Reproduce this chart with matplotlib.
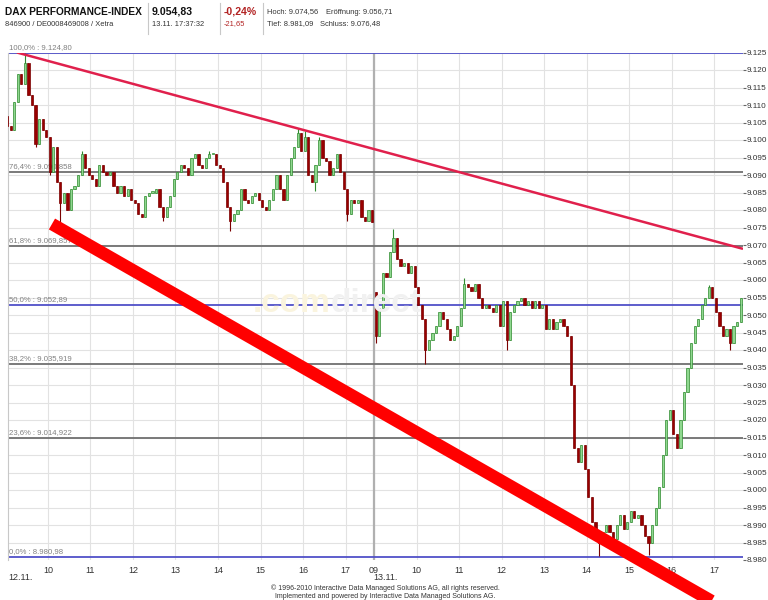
import numpy as np
import matplotlib
matplotlib.use("Agg")
import matplotlib.pyplot as plt
from matplotlib.lines import Line2D

plt.rcParams['font.family'] = ['Liberation Sans', 'DejaVu Sans']

# ---------------- data ----------------
# 5-minute closes, day 1 (12.11.) and day 2 (13.11.), index points
day1_open0 = 9107.0
day1_close = [9104, 9103, 9111, 9119, 9116, 9122, 9113, 9110, 9099, 9106,
              9103, 9101, 9091, 9098, 9088, 9082, 9085, 9080, 9086, 9087,
              9090, 9096, 9092, 9090, 9089, 9087, 9093, 9091, 9090, 9091,
              9087, 9085, 9087, 9084, 9086, 9083, 9082, 9079, 9078, 9084,
              9085, 9085, 9086, 9081, 9078, 9081, 9084, 9089, 9091, 9093,
              9092, 9090, 9095, 9096, 9093, 9092, 9095, 9096, 9096, 9093,
              9092, 9088, 9081, 9077, 9079, 9080, 9086, 9083, 9082, 9084,
              9085, 9083, 9081, 9080, 9083, 9086, 9090, 9086, 9083, 9090,
              9095, 9098, 9102, 9097, 9101, 9090, 9088, 9093, 9100, 9095,
              9094, 9090, 9092, 9096, 9091, 9086, 9079, 9083, 9082, 9083,
              9078, 9077, 9080, 9076.48]
day1_high_spikes = {5: 9124.8, 21: 9097, 57: 9097, 82: 9103.5, 84: 9102.5, 88: 9101}
day1_low_spikes = {8: 9098, 12: 9090, 15: 9076.5, 44: 9077, 63: 9074, 87: 9085.5, 96: 9077}

day2_open0 = 9056.71
day2_close = [9044, 9052, 9062, 9061, 9068, 9072, 9066, 9064, 9065, 9062,
              9064, 9058, 9053, 9049, 9040, 9043, 9045, 9047, 9051, 9049,
              9046, 9043, 9044, 9047, 9052, 9059, 9058, 9057, 9059, 9055,
              9052, 9053, 9052, 9051, 9053, 9047, 9054, 9043, 9051, 9053,
              9054, 9055, 9053, 9054, 9052, 9054, 9052, 9053, 9046, 9049,
              9046, 9048, 9049, 9047, 9044, 9030, 9012, 9008, 9013, 9006,
              8998, 8991, 8987, 8985, 8988, 8990, 8988, 8986, 8990, 8993,
              8989, 8991, 8994, 8992, 8993, 8990, 8987, 8985, 8990, 8995,
              9001, 9010, 9020, 9023, 9016, 9012, 9020, 9028, 9035, 9042,
              9047, 9049, 9053, 9055, 9058, 9055, 9051, 9047, 9044, 9046,
              9042, 9047, 9048, 9054.83]
day2_high_spikes = {5: 9074.56, 25: 9060.5, 94: 9058.5}
day2_low_spikes = {0: 9042, 14: 9036, 37: 9040, 63: 8981.09, 77: 8981.5, 100: 9040}

day2_offset = 8.67          # position of 09:00 on day 2 (in trading hours)

fib_pct = ["100,0%", "76,4%", "61,8%", "50,0%", "38,2%", "23,6%", "0,0%"]
fib_vals = [9124.80, 9090.858, 9069.857, 9052.89, 9035.919, 9014.922, 8980.98]
fib_text = ["9.124,80", "9.090,858", "9.069,857", "9.052,89", "9.035,919", "9.014,922", "8.980,98"]
fib_blue = [True, False, False, True, False, False, True]

upper_t = [0.27, 17.35]
upper_p = [9125.0, 9068.9]
lower_t = [1.094, 16.81]
lower_p = [9076.0, 8966.9]

day1_hours = [10, 11, 12, 13, 14, 15, 16, 17]
day2_hours = [9, 10, 11, 12, 13, 14, 15, 16, 17]

# ---------------- figure ----------------
fig = plt.figure(figsize=(7.68, 6.0), dpi=100)
ax = fig.add_axes([8/768, 40/600, 735/768, 507.5/600])
ax.set_xlim(0.06, 17.35)
ax.set_ylim(8980, 9125)

# grid
for v in np.arange(8980, 9126, 5):
    ax.axhline(v, color='#e2e2e2', lw=0.8, zorder=0)
hour_pos = [h - 9 for h in day1_hours] + [day2_offset + h - 9 for h in day2_hours]
hour_lab = [str(h) for h in day1_hours] + [f"{h:02d}" for h in day2_hours]
for p in hour_pos:
    ax.axvline(p, color='#e2e2e2', lw=0.8, zorder=0)
ax.axvline(day2_offset, color='#b0b0b0', lw=1.6, zorder=0)

# watermark
fig.text(0.43, 0.495, ".com", fontsize=24, fontweight='bold', color='#faf4de',
         ha='right', va='center', zorder=0)
fig.text(0.43, 0.495, "direct", fontsize=24, fontweight='bold', color='#f1f1f1',
         ha='left', va='center', zorder=0)

# fib lines
for pct, val, txt, blue in zip(fib_pct, fib_vals, fib_text, fib_blue):
    ax.axhline(val, color='#5050c8' if blue else '#707070', lw=1.3, zorder=1)
    ax.text(0.08, val + 0.5, f"{pct} : {txt}", fontsize=5.6, color='#808080',
            ha='left', va='bottom', zorder=1)


def draw_candles(t0, open0, closes, hi_sp, lo_sp):
    opens = [open0] + list(closes[:-1])
    bw = 5 / 60
    for i, (o, c) in enumerate(zip(opens, closes)):
        x = t0 + (i * 5 + 2.5) / 60
        hi = max(o, c, hi_sp.get(i, -1e9))
        lo = min(o, c, lo_sp.get(i, 1e9))
        up = c >= o
        edge = '#2f8a2f' if up else '#7a0000'
        face = '#8fd88f' if up else '#990000'
        ax.vlines(x, lo, hi, color=edge, lw=0.8, zorder=3)
        h = max(abs(c - o), 0.35)
        ax.bar(x, h, bottom=min(o, c), width=bw * 0.62, color=face,
               edgecolor=edge, linewidth=0.5, zorder=4)


draw_candles(0.0, day1_open0, day1_close, day1_high_spikes, day1_low_spikes)
draw_candles(day2_offset, day2_open0, day2_close, day2_high_spikes, day2_low_spikes)

# trend lines
ax.plot(upper_t, upper_p, color='#e0204c', lw=1.8, zorder=5, solid_capstyle='butt')
ax.plot(lower_t, lower_p, color='#ff0000', lw=9, zorder=6, clip_on=False,
        solid_capstyle='butt')

# axes styling
for s in ['top', 'right', 'bottom']:
    ax.spines[s].set_visible(False)
ax.spines['left'].set_color('#c8c8c8')
ax.yaxis.tick_right()
yt = np.arange(8980, 9126, 5)
ax.set_yticks(yt)
ax.set_yticklabels([f"{v/1000:.3f}" for v in yt], fontsize=5.9, color='#333333')
ax.tick_params(axis='y', length=2, pad=0.5, color='#666666')
ax.set_xticks(hour_pos)
ax.set_xticklabels(hour_lab, fontsize=6.5, color='#333333')
ax.tick_params(axis='x', length=0, pad=4)
fig.text(8/768, 1 - 578/600, "12.11.", fontsize=6.5, color='#333333', ha='left', va='center')
fig.text(373/768, 1 - 578/600, "13.11.", fontsize=6.5, color='#333333', ha='left', va='center')

# header
fig.text(5/768, 1 - 12/600, "DAX PERFORMANCE-INDEX", fontsize=7.3, fontweight='bold',
         color='#111111', ha='left', va='center')
fig.text(152/768, 1 - 12/600, "9.054,83", fontsize=7.6, fontweight='bold',
         color='#111111', ha='left', va='center')
fig.text(224/768, 1 - 12/600, "-0,24%", fontsize=7.6, fontweight='bold',
         color='#b22222', ha='left', va='center')
fig.text(267/768, 1 - 12/600, "Hoch: 9.074,56", fontsize=5.4, color='#333333', ha='left', va='center')
fig.text(326/768, 1 - 12/600, "Eröffnung: 9.056,71", fontsize=5.4, color='#333333', ha='left', va='center')
fig.text(5/768, 1 - 24/600, "846900 / DE0008469008 / Xetra", fontsize=5.4, color='#333333', ha='left', va='center')
fig.text(152/768, 1 - 24/600, "13.11. 17:37:32", fontsize=5.4, color='#333333', ha='left', va='center')
fig.text(224/768, 1 - 24/600, "-21,65", fontsize=5.4, color='#b22222', ha='left', va='center')
fig.text(267/768, 1 - 24/600, "Tief: 8.981,09", fontsize=5.4, color='#333333', ha='left', va='center')
fig.text(320/768, 1 - 24/600, "Schluss: 9.076,48", fontsize=5.4, color='#333333', ha='left', va='center')
for xs in [148, 220, 263]:
    fig.add_artist(Line2D([xs/768, xs/768], [1 - 3/600, 1 - 34/600],
                          color='#c8c8c8', lw=0.8))

# footer
fig.text(385/768, 1 - 588/600, "© 1996-2010 Interactive Data Managed Solutions AG, all rights reserved.",
         fontsize=5.0, color='#333333', ha='center', va='center')
fig.text(385/768, 1 - 597/600, "Implemented and powered by Interactive Data Managed Solutions AG.",
         fontsize=5.0, color='#333333', ha='center', va='center')

fig.savefig("out.png", dpi=100)
